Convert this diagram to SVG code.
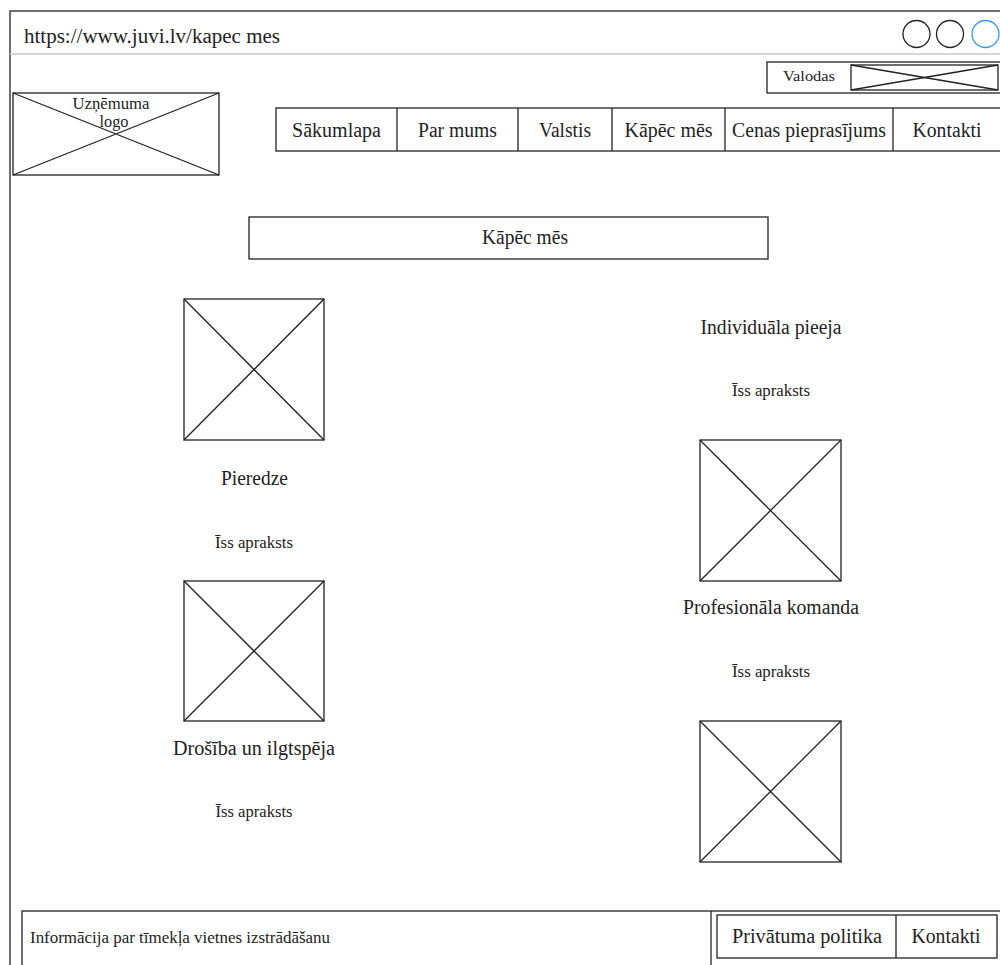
<svg xmlns="http://www.w3.org/2000/svg" width="1000" height="965" viewBox="0 0 1000 965">
<style>
.b{fill:#fff;stroke:#222;stroke-width:1.3}
.n{fill:none;stroke:#222;stroke-width:1.3}
.x{stroke:#222;stroke-width:1.3;fill:none}
text{font-family:"Liberation Serif","Times New Roman",serif;fill:#222}
.t20{font-size:20px}
.t17{font-size:17px}
.c{text-anchor:middle}
</style>
<rect width="1000" height="965" fill="#fff"/>
<g id="browser">
<rect x="10" y="11" width="1000" height="970" class="n"/>
<line x1="10" y1="54" x2="1000" y2="54" stroke="#c8c8c8" stroke-width="1.5"/>
<text x="24" y="43" class="t20" textLength="256" lengthAdjust="spacingAndGlyphs">https://www.juvi.lv/kapec mes</text>
<circle cx="916.5" cy="34" r="13.5" class="n"/>
<circle cx="950" cy="34" r="13.5" class="n"/>
<circle cx="985.5" cy="34" r="13.5" fill="none" stroke="#3399ff" stroke-width="1.3"/>
</g>
<g id="valodas">
<rect x="767" y="62" width="240" height="31" class="b"/>
<text x="809" y="81" class="c" font-size="15" textLength="52" lengthAdjust="spacingAndGlyphs">Valodas</text>
<rect x="851" y="65" width="147" height="25" class="b"/>
<path d="M851 65L998 90M998 65L851 90" class="x"/>
</g>
<g id="logo">
<rect x="13" y="93" width="206" height="82" class="b"/>
<path d="M13 93L219 175M219 93L13 175" class="x"/>
<text x="111" y="109" class="c" font-size="16" textLength="77" lengthAdjust="spacingAndGlyphs">Uzņēmuma</text>
<text x="114" y="127" class="c" font-size="16" textLength="29" lengthAdjust="spacingAndGlyphs">logo</text>
</g>
<g id="nav">
<rect x="276" y="108" width="740" height="43" class="b"/>
<path d="M397 108V151M518 108V151M612 108V151M725 108V151M893 108V151" class="n"/>
<text x="336.5" y="137" class="t20 c" textLength="89" lengthAdjust="spacingAndGlyphs">Sākumlapa</text>
<text x="457.5" y="137" class="t20 c" textLength="79" lengthAdjust="spacingAndGlyphs">Par mums</text>
<text x="565" y="137" class="t20 c" textLength="52" lengthAdjust="spacingAndGlyphs">Valstis</text>
<text x="668.5" y="137" class="t20 c" textLength="88" lengthAdjust="spacingAndGlyphs">Kāpēc mēs</text>
<text x="809" y="137" class="t20 c" textLength="154" lengthAdjust="spacingAndGlyphs">Cenas pieprasījums</text>
<text x="947" y="137" class="t20 c" textLength="69" lengthAdjust="spacingAndGlyphs">Kontakti</text>
</g>
<g id="title">
<rect x="249" y="217" width="519" height="42" class="b"/>
<text x="525" y="244" class="t20 c" textLength="86" lengthAdjust="spacingAndGlyphs">Kāpēc mēs</text>
</g>
<g id="img1">
<rect x="184" y="299" width="140" height="141" class="b"/>
<path d="M184 299L324 440M324 299L184 440" class="x"/>
</g>
<g id="pieredze">
<text x="254.5" y="485" class="t20 c" textLength="67" lengthAdjust="spacingAndGlyphs">Pieredze</text>
<text x="254" y="548" class="t17 c" textLength="78" lengthAdjust="spacingAndGlyphs">Īss apraksts</text>
</g>
<g id="img2">
<rect x="184" y="581" width="140" height="140" class="b"/>
<path d="M184 581L324 721M324 581L184 721" class="x"/>
</g>
<g id="drosiba">
<text x="254" y="755" class="t20 c" textLength="162" lengthAdjust="spacingAndGlyphs">Drošība un ilgtspēja</text>
<text x="254" y="817" class="t17 c" textLength="77" lengthAdjust="spacingAndGlyphs">Īss apraksts</text>
</g>
<g id="individuala">
<text x="771" y="334" class="t20 c" textLength="141" lengthAdjust="spacingAndGlyphs">Individuāla pieeja</text>
<text x="771" y="396" class="t17 c" textLength="78" lengthAdjust="spacingAndGlyphs">Īss apraksts</text>
</g>
<g id="img3">
<rect x="700" y="440" width="141" height="141" class="b"/>
<path d="M700 440L841 581M841 440L700 581" class="x"/>
</g>
<g id="profesionala">
<text x="771" y="614" class="t20 c" textLength="176" lengthAdjust="spacingAndGlyphs">Profesionāla komanda</text>
<text x="771" y="677" class="t17 c" textLength="78" lengthAdjust="spacingAndGlyphs">Īss apraksts</text>
</g>
<g id="img4">
<rect x="700" y="721" width="141" height="141" class="b"/>
<path d="M700 721L841 862M841 721L700 862" class="x"/>
</g>
<g id="footer">
<rect x="22" y="911" width="1000" height="80" class="b"/>
<line x1="711" y1="911" x2="711" y2="965" class="n"/>
<text x="30" y="943" font-size="16" textLength="300" lengthAdjust="spacingAndGlyphs">Informācija par tīmekļa vietnes izstrādāšanu</text>
<rect x="717" y="915" width="280" height="43" class="b"/>
<line x1="896" y1="915" x2="896" y2="958" class="n"/>
<text x="807" y="943" class="t20 c" textLength="150" lengthAdjust="spacingAndGlyphs">Privātuma politika</text>
<text x="946" y="943" class="t20 c" textLength="69" lengthAdjust="spacingAndGlyphs">Kontakti</text>
</g>
<g id="connectors"></g>
</svg>
